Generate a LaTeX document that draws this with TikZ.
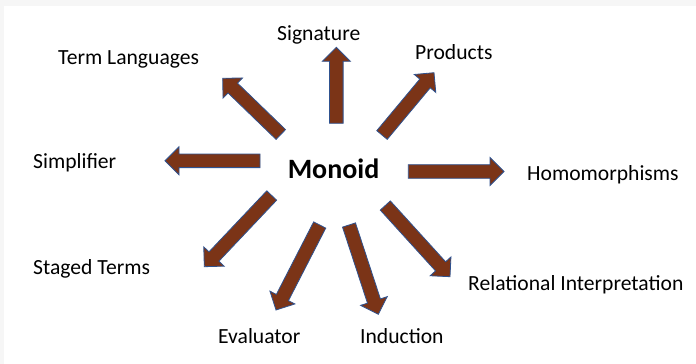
\documentclass[tikz,border=0pt]{standalone}
\usepackage{fontspec}
\setmainfont{Carlito}
\usetikzlibrary{calc}

\definecolor{arrowfill}{RGB}{123,52,23}
\definecolor{arrowline}{RGB}{47,82,143}
\definecolor{framegray}{RGB}{246,246,246}

% Block arrow from tail coordinate #1 to tip coordinate #2
\newcommand\blockarrow[2]{%
  \coordinate (#2-base) at ($(#2)!14pt!(#1)$);
  \filldraw[arrowbody]
    ($(#1)!6.8pt!90:(#2)$) -- ($(#2-base)!6.8pt!-90:(#1)$)
    -- ($(#2-base)!14pt!-90:(#1)$) -- (#2)
    -- ($(#2-base)!14pt!90:(#1)$) -- ($(#2-base)!6.8pt!90:(#1)$)
    -- ($(#1)!6.8pt!-90:(#2)$) -- cycle;
}

\begin{document}
\begin{tikzpicture}[x=1pt,y=-1pt,
  arrowbody/.style={fill=arrowfill,draw=arrowline,line width=0.8pt,line join=miter},
  label/.style={font=\fontsize{21.6}{24}\selectfont,anchor=base west,inner sep=0pt},
  hub/.style={font=\fontsize{28}{32}\selectfont\bfseries,anchor=base,inner sep=0pt}]

  % page and frame
  \useasboundingbox (0,0) rectangle (696,364);
  \fill[framegray] (0,0) rectangle (696,364);
  \fill[white] (4,6) rectangle (696,364);

  % central concept and its neighbours
  \node[hub]   (monoid) at (333.5,178) {Monoid};
  \node[label] (sig)    at (277,40)  {Signature};
  \node[label] (prod)   at (415,59)  {Products};
  \node[label] (term)   at (58,64)   {Term Languages};
  \node[label] (simp)   at (33,168)  {Simplifier};
  \node[label] (hom)    at (527,180) {Homomorphisms};
  \node[label] (staged) at (33,274)  {Staged Terms};
  \node[label] (rel)    at (468,290) {Relational Interpretation};
  \node[label] (eval)   at (218,343) {Evaluator};
  \node[label] (ind)    at (360,343) {Induction};

  % arrow end points
  \coordinate (sig-tail)    at (336.3,123.3);
  \coordinate (sig-tip)     at (336.3,47.3);
  \coordinate (prod-tail)   at (382,135);
  \coordinate (prod-tip)    at (434,72.7);
  \coordinate (term-tail)   at (280.8,134.5);
  \coordinate (term-tip)    at (222.7,78.3);
  \coordinate (simp-tail)   at (260,160.8);
  \coordinate (simp-tip)    at (165,160.8);
  \coordinate (hom-tail)    at (408.3,171.5);
  \coordinate (hom-tip)     at (504,171.5);
  \coordinate (staged-tail) at (271.7,195.5);
  \coordinate (staged-tip)  at (204.3,266.7);
  \coordinate (rel-tail)    at (385.3,205.5);
  \coordinate (rel-tip)     at (450,276.7);
  \coordinate (eval-tail)   at (319.7,225);
  \coordinate (eval-tip)    at (276,310);
  \coordinate (ind-tail)    at (349,225);
  \coordinate (ind-tip)     at (378.3,314.3);

  % arrows radiating from the centre
  \blockarrow{sig-tail}{sig-tip}
  \blockarrow{prod-tail}{prod-tip}
  \blockarrow{term-tail}{term-tip}
  \blockarrow{simp-tail}{simp-tip}
  \blockarrow{hom-tail}{hom-tip}
  \blockarrow{staged-tail}{staged-tip}
  \blockarrow{rel-tail}{rel-tip}
  \blockarrow{eval-tail}{eval-tip}
  \blockarrow{ind-tail}{ind-tip}
\end{tikzpicture}
\end{document}
